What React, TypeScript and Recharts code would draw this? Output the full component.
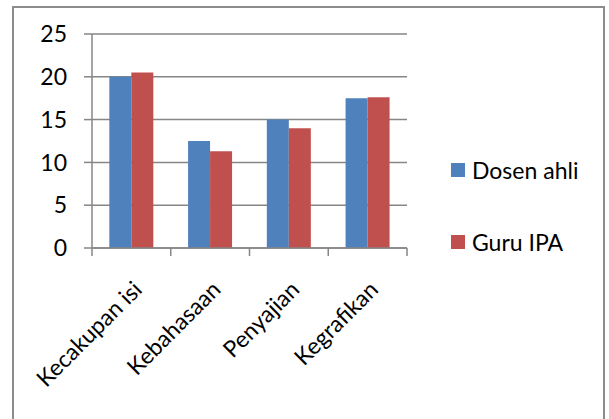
import { BarChart, Bar, XAxis, YAxis, CartesianGrid, Legend } from "recharts";

const categories = ["Kecakupan isi", "Kebahasaan", "Penyajian", "Kegrafikan"];
const dosenAhli = [20, 12.5, 15, 17.5];
const guruIpa = [20.5, 11.3, 14, 17.6];
const yTicks = [0, 5, 10, 15, 20, 25];

const series = [
  { key: "dosen", name: "Dosen ahli", color: "#4f81bd" },
  { key: "guru", name: "Guru IPA", color: "#c0504d" },
];

const data = categories.map((c, i) => ({ name: c, dosen: dosenAhli[i], guru: guruIpa[i] }));

const FONT = "Lato, 'Open Sans', sans-serif";
const GRID = "#868686";

function XTick(props: any) {
  const { x, y, payload, index } = props;
  const half = payload?.offset ?? 39.4;
  return (
    <g>
      <line x1={x - half} y1={y - 8} x2={x - half} y2={y} stroke={GRID} strokeWidth={1.5} />
      {index === categories.length - 1 && (
        <line x1={x + half} y1={y - 8} x2={x + half} y2={y} stroke={GRID} strokeWidth={1.5} />
      )}
      <text
        x={x + 12}
        y={y + 35}
        textAnchor="end"
        transform={`rotate(-45, ${x + 12}, ${y + 35})`}
        fontSize={23}
        fontFamily={FONT}
        fill="#000"
      >
        {payload.value}
      </text>
    </g>
  );
}

function LegendBox() {
  return (
    <div style={{ width: 150, fontFamily: FONT, fontSize: 23, color: "#000" }}>
      {series.map((s, i) => (
        <div
          key={s.key}
          style={{ display: "flex", alignItems: "center", height: 26, marginTop: i === 0 ? 0 : 46 }}
        >
          <span style={{ width: 14, height: 14, background: s.color, display: "inline-block", marginRight: 7 }} />
          <span>{s.name}</span>
        </div>
      ))}
    </div>
  );
}

export default function App() {
  return (
    <div style={{ position: "fixed", left: 0, top: 0, width: 609, height: 419, background: "#fff", overflow: "hidden" }}>
      <div
        style={{
          position: "absolute",
          left: 12,
          top: 6,
          width: 589,
          height: 440,
          borderTop: "2px solid #8c8c8c",
          borderLeft: "2px solid #8c8c8c",
          borderRight: "2px solid #8c8c8c",
        }}
      />
      <div style={{ position: "absolute", left: 0, top: 0 }}>
        <BarChart
          width={609}
          height={419}
          data={data}
          margin={{ top: 34, right: 52, bottom: 111, left: 12 }}
          barCategoryGap="22%"
          barGap={0}
        >
          <CartesianGrid vertical={false} stroke={GRID} strokeWidth={1.5} />
          <XAxis
            dataKey="name"
            height={60}
            interval={0}
            tickSize={8}
            tickMargin={0}
            tickLine={false}
            axisLine={{ stroke: GRID, strokeWidth: 1.5 }}
            tick={<XTick />}
          />
          <YAxis
            width={80}
            domain={[0, 25]}
            ticks={yTicks}
            tickSize={8}
            tickMargin={17}
            tickLine={{ stroke: GRID, strokeWidth: 1.5 }}
            axisLine={{ stroke: GRID, strokeWidth: 1.5 }}
            tick={{ fontSize: 23, fontFamily: FONT, fill: "#000" }}
          />
          <Legend
            layout="vertical"
            align="right"
            verticalAlign="middle"
            content={() => <LegendBox />}
            wrapperStyle={{ left: 451, top: 157, width: 150 }}
          />
          {series.map((s) => (
            <Bar key={s.key} dataKey={s.key} name={s.name} fill={s.color} isAnimationActive={false} />
          ))}
        </BarChart>
      </div>
    </div>
  );
}
